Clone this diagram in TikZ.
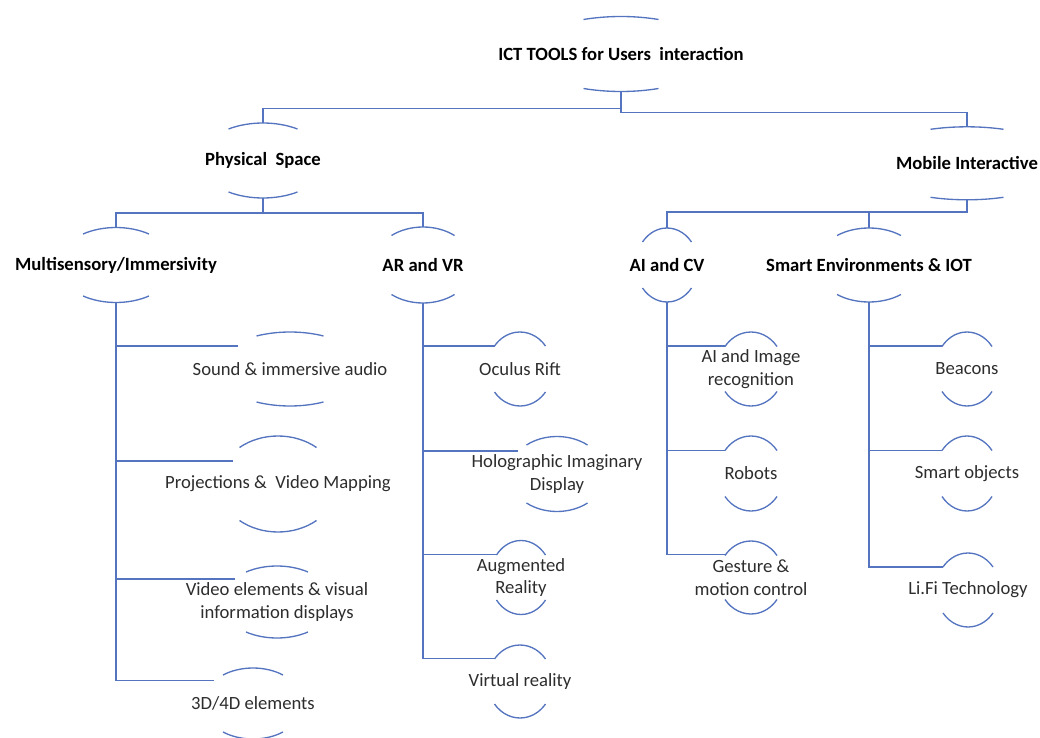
\documentclass[tikz,border=0pt]{standalone}
\usepackage{fontspec}
\setmainfont{Carlito}
\usetikzlibrary{calc}
\definecolor{linkblue}{RGB}{84,116,192}
\definecolor{leaftext}{RGB}{45,45,45}
\tikzset{
  conn/.style={draw=linkblue, line width=1.2pt},
  arcline/.style={draw=linkblue, line width=1pt},
  head/.style={inner sep=0pt, font=\fontsize{14}{17}\selectfont\bfseries, text=black, align=center},
  leaf/.style={inner sep=0pt, font=\fontsize{14}{17}\selectfont, text=leaftext, align=center},
}
% Upper and lower arcs of an elliptic frame around a label.
% #1 node name, #2 half chord of each arc, #3 half height, #4 sag of the arc
\newcommand\arcpair[4]{%
  \pgfmathsetmacro\arcR{(#3-#4)/#3}%
  \pgfmathsetmacro\arcA{#2/sqrt(1-\arcR*\arcR)}%
  \pgfmathsetmacro\arcP{acos(#2/\arcA)}%
  \draw[arcline] (#1.center) ++(\arcP:\arcA\space and #3)
    arc[start angle=\arcP, end angle=180-\arcP, x radius=\arcA, y radius=#3];
  \draw[arcline] (#1.center) ++(180+\arcP:\arcA\space and #3)
    arc[start angle=180+\arcP, end angle=360-\arcP, x radius=\arcA, y radius=#3];
  \coordinate (#1-t) at ($(#1.center)+(0,#3)$);
  \coordinate (#1-b) at ($(#1.center)+(0,-#3)$);
}
% Point where a list branch meets a leaf: #1 node name, #2 distance to the left
\newcommand\leafpt[2]{\coordinate (#1-l) at ($(#1.center)+(-#2,23)$);}

\begin{document}
\begin{tikzpicture}[x=0.75pt,y=0.75pt]
\useasboundingbox (0,0) rectangle (1040,-738);

% ---- upper levels ----
\node[head] (root)  at (621,-54)    {ICT TOOLS for Users\ \ interaction};
\node[head] (phys)  at (263,-160.5) {Physical\ \ Space};
\node[head] (mob)   at (967,-163.3) {Mobile Interactive};
\node[head] (ms)    at (116,-265)   {Multisensory/Immersivity};
\node[head] (arvr)  at (423,-265)   {AR and VR};
\node[head] (aicv)  at (667,-265)   {AI and CV};
\node[head] (smart) at (869,-265)   {Smart Environments \& IOT};

\arcpair{root}{37.5}{37.5}{3}
\arcpair{phys}{34.5}{37.5}{6}
\arcpair{mob}{36.5}{36.5}{2.5}
\arcpair{ms}{33}{37.5}{6.5}
\arcpair{arvr}{31.5}{38}{8.5}
\arcpair{aicv}{24.5}{37}{14}
\arcpair{smart}{32}{37}{7.5}

% ---- leaves ----
\node[leaf] (sound) at (290,-369)   {Sound \& immersive audio};
\node[leaf] (proj)  at (278,-484)   {Projections \&\ \ Video Mapping};
\node[leaf] (video) at (277,-602)   {Video elements \& visual\\information displays};
\node[leaf] (dim)   at (253,-703.5) {3D/4D elements};

\node[leaf] (ocul)  at (520,-369)   {Oculus Rift};
\node[leaf] (holo)  at (557,-474)   {Holographic Imaginary\\Display};
\node[leaf] (augm)  at (521,-577.5) {Augmented\\Reality};
\node[leaf] (vr)    at (520,-681.5) {Virtual reality};

\node[leaf] (aiimg) at (751,-369)   {AI and Image\\recognition};
\node[leaf] (robot) at (751,-473.5) {Robots};
\node[leaf] (gest)  at (751,-577.5) {Gesture \&\\motion control};

\node[leaf] (beac)  at (967,-369)   {Beacons};
\node[leaf] (sobj)  at (967,-473.5) {Smart objects};
\node[leaf] (lifi)  at (968,-590)   {Li.Fi Technology};

\arcpair{sound}{33.5}{37}{4}
\arcpair{proj}{38.5}{48}{11.5}
\arcpair{video}{31}{36}{6}
\arcpair{dim}{30}{35.5}{7}

\arcpair{ocul}{25.5}{37}{14}
\arcpair{holo}{30.5}{37.5}{8.5}
\arcpair{augm}{24.5}{37}{14.5}
\arcpair{vr}{25.5}{36.5}{14}

\arcpair{aiimg}{26}{37}{14.5}
\arcpair{robot}{26}{37.5}{14.5}
\arcpair{gest}{26}{36.5}{14.5}

\arcpair{beac}{25}{37}{14.5}
\arcpair{sobj}{25}{37.5}{14.5}
\arcpair{lifi}{25}{37}{14}

\leafpt{sound}{52}
\leafpt{proj}{45}
\leafpt{video}{42}
\leafpt{dim}{39}
\leafpt{ocul}{25}
\leafpt{holo}{39}
\leafpt{augm}{24}
\leafpt{vr}{25}
\leafpt{aiimg}{26}
\leafpt{robot}{26}
\leafpt{gest}{26}
\leafpt{beac}{25}
\leafpt{sobj}{25}
\leafpt{lifi}{25}

% ---- connectors between levels ----
\draw[conn] (root-b) -- ++(0,-17) -| (phys-t);
\draw[conn] (root-b) -- ++(0,-21) -| (mob-t);
\draw[conn] (phys-b) -- ++(0,-15) -| (ms-t);
\draw[conn] (phys-b) -- ++(0,-15) -| (arvr-t);
\draw[conn] (mob-b) -- ++(0,-12) -| (aicv-t);
\draw[conn] (mob-b) -- ++(0,-12) -| (smart-t);

% ---- list branches ----
\foreach \leafname in {sound,proj,video,dim} \draw[conn] (ms-b) |- (\leafname-l);
\foreach \leafname in {ocul,holo,augm,vr} \draw[conn] (arvr-b) |- (\leafname-l);
\foreach \leafname in {aiimg,robot,gest} \draw[conn] (aicv-b) |- (\leafname-l);
\foreach \leafname in {beac,sobj,lifi} \draw[conn] (smart-b) |- (\leafname-l);
\end{tikzpicture}
\end{document}
